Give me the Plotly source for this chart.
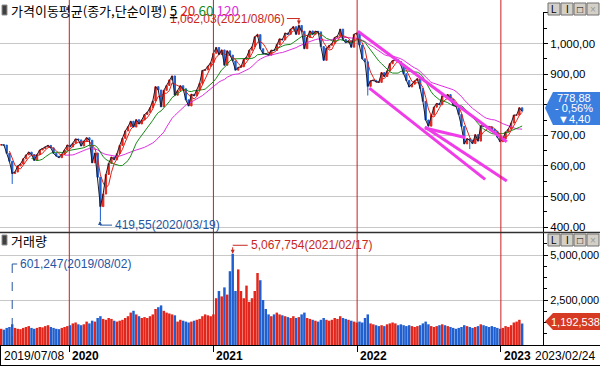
import pandas as pd
import plotly.graph_objects as go

# ---------------- data (weekly, Friday closes) ----------------
close_2019 = [669, 668, 641, 615, 575, 580, 600, 606, 623, 636, 645, 637, 618, 637, 652, 657,
              662, 667, 659, 641, 632, 627, 638, 652, 668]
close_2020 = [662, 674, 688, 685, 665, 681, 692, 684, 610, 642, 563, 467, 508, 572, 608, 629,
              620, 640, 667, 690, 714, 728, 746, 727, 751, 737, 750, 768, 775, 790, 812, 859,
              848, 793, 847, 863, 881, 894, 831, 846, 862, 852, 816, 796, 834, 829, 848, 870,
              912, 914, 926, 937]
close_2021 = [968, 987, 964, 979, 929, 976, 962, 943, 913, 922, 924, 948, 955, 978, 989, 1022,
              1029, 983, 967, 966, 962, 978, 977, 997, 1015, 1012, 1034, 1030, 1047, 1055, 1030,
              1059, 1040, 983, 1020, 1041, 1030, 1040, 1038, 990, 945, 985, 994, 1000, 1020, 1024,
              1047, 1013, 1003, 1009, 988, 1030, 1034]
close_2022 = [995, 950, 940, 860, 878, 880, 875, 873, 905, 892, 910, 934, 944, 947, 941, 930,
              901, 879, 858, 867, 878, 885, 853, 811, 750, 730, 766, 792, 804, 800, 829, 828,
              833, 818, 798, 795, 768, 729, 672, 689, 684, 673, 702, 681, 731, 730, 729, 728,
              719, 713, 694, 679]
close_2023 = [688, 711, 720, 740, 766, 766, 790, 778.88]

# average daily volume per week (thousand shares)
vol_2019 = [900, 850, 950, 1000, 1150, 950, 900, 880, 950, 1000, 1050, 950, 900, 950, 1000, 980,
            1050, 1100, 1000, 950, 900, 880, 950, 1000, 1050]
vol_2020 = [1100, 1200, 1250, 1150, 1100, 1150, 1300, 1200, 1350, 1300, 1500, 1600, 1450, 1400,
            1500, 1450, 1350, 1300, 1350, 1400, 1500, 1600, 1800, 1900, 1700, 1600, 1500, 1550,
            1500, 1600, 1700, 2000, 2100, 2200, 1900, 1800, 1750, 1700, 1650, 1300, 1400, 1350,
            1300, 1250, 1300, 1350, 1400, 1450, 1600, 1700, 1650, 1600]
vol_2021 = [1700, 2600, 3000, 2700, 3200, 2800, 4100, 5068, 3000, 4200, 3000, 2600, 3300, 2400,
            2600, 3000, 4000, 3600, 2500, 2000, 1700, 1600, 1700, 1800, 1700, 1650, 1600, 1550,
            1500, 1600, 1500, 1550, 1700, 1800, 1500, 1450, 1400, 1350, 1300, 1400, 1500, 1400,
            1350, 1400, 1500, 1450, 1600, 1500, 1450, 1400, 1350, 1300, 1250]
vol_2022 = [1300, 1250, 1500, 1700, 1200, 1150, 1100, 1050, 1100, 1050, 1150, 1200, 1250, 1200,
            1100, 1150, 1100, 1050, 1100, 1050, 1000, 1050, 1100, 1200, 1300, 1150, 1050, 1000,
            1050, 1100, 1150, 1100, 1050, 1000, 950, 900, 950, 1000, 1100, 1050, 1000, 950, 1000,
            1050, 1150, 1100, 1050, 1000, 1050, 1000, 950, 900]
vol_2023 = [950, 1050, 1000, 1100, 1250, 1300, 1400, 1192.538]

# intraweek extremes
low_dates = ['2019-08-09', '2020-03-20', '2022-01-28', '2022-10-14']
low_vals = [541, 419.55, 830, 655]
high_dates = ['2021-08-06', '2021-04-23']
high_vals = [1062.03, 1032]

# trend lines drawn on the chart
trend_x0 = ['2022-01-03', '2022-06-22', '2022-02-01', '2022-06-22']
trend_y0 = [1040, 724, 854, 727]
trend_x1 = ['2023-01-16', '2022-10-02', '2022-11-22', '2023-01-16']
trend_y1 = [679, 693, 556, 551]

year_starts = ['2020-01-01', '2021-01-01', '2022-01-01', '2023-01-01']
year_labels = ['2020', '2021', '2022', '2023']
price_ticks = [400, 500, 600, 700, 800, 900, 1000, 1100]
price_ticktext = ['400,00', '500,00', '600,00', '700,00', '', '900,00', '1,000,00', '']
vol_ticks = [2500000, 5000000]
vol_ticktext = ['2,500,000', '5,000,000']

# ---------------- build series ----------------
close = close_2019 + close_2020 + close_2021 + close_2022 + close_2023
vol = [v * 1000 for v in (vol_2019 + vol_2020 + vol_2021 + vol_2022 + vol_2023)]
dates = pd.date_range('2019-07-12', periods=len(close), freq='W-FRI')
opn = [close[0]] + close[:-1]
high = [max(o, c) for o, c in zip(opn, close)]
low = [min(o, c) for o, c in zip(opn, close)]
idx = {d.strftime('%Y-%m-%d'): i for i, d in enumerate(dates)}
for d, v in zip(low_dates, low_vals):
    low[idx[d]] = v
for d, v in zip(high_dates, high_vals):
    high[idx[d]] = v
s = pd.Series(close)
ma5 = s.rolling(1).mean()
ma20 = s.rolling(4).mean()
ma60 = s.rolling(12).mean()
ma120 = s.rolling(24).mean()
up = [c >= o for o, c in zip(opn, close)]
RED, BLUE = '#e3261b', '#1f5fd0'
vcol = [RED if u else BLUE for u in up]

# ---------------- geometry helpers ----------------
W, H = 600, 366
ML, MR, MT, MB = 0, 57, 12, 21
PW, PH = W - ML - MR, H - MT - MB
def px(x): return (x - ML) / PW
def py(y): return (H - MB - y) / PH

FONT = 'Liberation Sans'
KFONT = 'Noto Sans CJK KR'

fig = go.Figure()
fig.add_trace(go.Candlestick(x=dates, open=opn, high=high, low=low, close=close,
                             increasing=dict(line=dict(color=RED, width=1), fillcolor=RED),
                             decreasing=dict(line=dict(color=BLUE, width=1), fillcolor=BLUE),
                             whiskerwidth=0, xaxis='x', yaxis='y', showlegend=False,
                             hoverinfo='skip'))
for ma, col in [(ma120, '#e030e0'), (ma60, '#178a17'), (ma20, '#e02018'), (ma5, '#1a1a2a')]:
    fig.add_trace(go.Scatter(x=dates, y=ma, mode='lines', line=dict(color=col, width=1),
                             xaxis='x', yaxis='y', showlegend=False, hoverinfo='skip'))
for a, b, c, d in zip(trend_x0, trend_y0, trend_x1, trend_y1):
    fig.add_trace(go.Scatter(x=[a, c], y=[b, d], mode='lines',
                             line=dict(color='#f03ce8', width=3),
                             xaxis='x', yaxis='y', showlegend=False, hoverinfo='skip'))
fig.add_trace(go.Bar(x=dates, y=vol, marker=dict(color=vcol, line=dict(width=0)),
                     xaxis='x2', yaxis='y2', showlegend=False, hoverinfo='skip'))

xr = ['2019-07-09', '2023-04-18']
shapes = []
for d in year_starts:
    shapes.append(dict(type='line', xref='x', yref='paper', x0=d, x1=d, y0=0, y1=py(0),
                       line=dict(color='#c81e1e', width=1), layer='above'))
shapes.append(dict(type='line', xref='paper', yref='paper', x0=px(0), x1=px(600),
                   y0=py(232.5), y1=py(232.5), line=dict(color='#303030', width=1.5)))
shapes.append(dict(type='line', xref='paper', yref='paper', x0=px(0), x1=px(600),
                   y0=py(345.5), y1=py(345.5), line=dict(color='#000', width=1)))
shapes.append(dict(type='line', xref='paper', yref='paper', x0=px(0), x1=px(600),
                   y0=py(365.5), y1=py(365.5), line=dict(color='#000', width=1)))
shapes.append(dict(type='line', xref='paper', yref='paper', x0=px(0.5), x1=px(0.5),
                   y0=py(345.5), y1=py(365.5), line=dict(color='#000', width=1)))
for yy in (5, 235):
    shapes.append(dict(type='rect', xref='paper', yref='paper', x0=px(2), x1=px(7),
                       y0=py(yy + 10), y1=py(yy), fillcolor='#404040',
                       line=dict(color='#909090', width=1)))

def pent(x_tip, y_mid, x_l, x_r, y_t, y_b):
    pts = [(x_tip, y_mid), (x_l, y_t), (x_r, y_t), (x_r, y_b), (x_l, y_b)]
    return 'M ' + ' L '.join(f'{px(a):.5f} {py(b):.5f}' for a, b in pts) + ' Z'

shapes.append(dict(type='path', xref='paper', yref='paper', path=pent(545, 108, 553, 600, 92, 125),
                   fillcolor='#3a7ee0', line=dict(width=0), layer='above'))
shapes.append(dict(type='path', xref='paper', yref='paper', path=pent(545, 321.5, 553, 600, 313, 330),
                   fillcolor='#d63a22', line=dict(width=0), layer='above'))
ann = []
for yy in (3, 234):
    for i, ch in enumerate(['L', 'I', '□', '×']):
        x0 = 548 + i * 13
        shapes.append(dict(type='rect', xref='paper', yref='paper', x0=px(x0), x1=px(x0 + 12),
                           y0=py(yy + 12), y1=py(yy), fillcolor='#d4d0c8',
                           line=dict(color='#707070', width=1), layer='above'))
        ann.append(dict(xref='paper', yref='paper', x=px(x0 + 6), y=py(yy + 6), text=ch,
                        showarrow=False, font=dict(family=FONT, size=10,
                                                   color='#999' if ch == '×' else '#000'),
                        xanchor='center', yanchor='middle'))

def pline(xa, ya, yref, x0, x1, y0, y1, color, dash='solid'):
    return dict(type='line', xref='x', yref=yref, xsizemode='pixel', ysizemode='pixel',
                xanchor=xa, yanchor=ya, x0=x0, x1=x1, y0=y0, y1=y1,
                line=dict(color=color, width=1, dash=dash), layer='above')

PK = '#c8281e'
LB = '#2556a3'
shapes.append(pline('2021-08-06', 1062.03, 'y', -12, 1, 6, 6, PK))
shapes.append(pline('2020-03-19', 419.55, 'y', 0, 12, -4, -4, LB))
shapes.append(pline('2021-02-19', 5067754, 'y2', 0, 15, 8.5, 8.5, PK))
shapes.append(dict(type='line', xref='x', yref='y2', x0='2019-08-09', x1='2019-08-09',
                   y0=0, y1=4.85e6, line=dict(color=LB, width=1, dash='dash')))
shapes.append(pline('2019-08-09', 4.5e6, 'y2', 0, 5, 0, 0, LB))

ann += [
    dict(x='2021-08-06', y=1062.03, xref='x', yref='y', ax=0, ay=-7,
         showarrow=True, arrowhead=2, arrowsize=0.8, arrowwidth=1, arrowcolor=PK, text=''),
    dict(x='2021-08-06', y=1062.03, xref='x', yref='y', xshift=-12, yshift=5.5,
         text='1,062,03(2021/08/06)', showarrow=False, xanchor='right', yanchor='middle',
         font=dict(family=FONT, size=12, color=PK)),
    dict(x='2020-03-19', y=419.55, xref='x', yref='y', ax=0, ay=4, showarrow=True,
         arrowhead=2, arrowsize=0.8, arrowwidth=1, arrowcolor=LB, text=''),
    dict(x='2020-03-19', y=419.55, xref='x', yref='y', xshift=13, yshift=-4,
         text='419,55(2020/03/19)', showarrow=False, xanchor='left', yanchor='middle',
         font=dict(family=FONT, size=12, color=LB)),
    dict(x='2021-02-19', y=5067754, xref='x', yref='y2', ax=0, ay=-8, showarrow=True,
         arrowhead=2, arrowsize=0.8, arrowwidth=1, arrowcolor=PK, text=''),
    dict(x='2021-02-19', y=5067754, xref='x', yref='y2', xshift=16, yshift=8.5,
         text='5,067,754(2021/02/17)', showarrow=False, xanchor='left', yanchor='middle',
         font=dict(family=FONT, size=12, color=PK)),
    dict(x='2019-08-09', y=4.5e6, xref='x', yref='y2', xshift=6,
         text='601,247(2019/08/02)', showarrow=False, xanchor='left', yanchor='middle',
         font=dict(family=FONT, size=12, color=LB)),
    dict(xref='paper', yref='paper', x=px(9), y=py(10), xanchor='left', yanchor='middle',
         showarrow=False, font=dict(family=KFONT, size=13, color='#000'),
         text="가격이동평균(종가,단순이평) <span style='font-size:13.5px'><u>5</u> "
              "<span style='color:#e02018'>20</span> "
              "<span style='color:#178a17'>60</span> "
              "<span style='color:#e030e0'>120</span></span>"),
    dict(xref='paper', yref='paper', x=px(9), y=py(240), xanchor='left', yanchor='middle',
         showarrow=False, font=dict(family=KFONT, size=13, color='#000'), text='거래량'),
    dict(xref='paper', yref='paper', x=px(574), y=py(98), text='778,88', showarrow=False,
         font=dict(family=FONT, size=11, color='white'), xanchor='center', yanchor='middle'),
    dict(xref='paper', yref='paper', x=px(574), y=py(108.5), text='- 0,56%', showarrow=False,
         font=dict(family=FONT, size=11, color='white'), xanchor='center', yanchor='middle'),
    dict(xref='paper', yref='paper', x=px(574), y=py(119), text='▼4,40', showarrow=False,
         font=dict(family=FONT, size=11, color='white'), xanchor='center', yanchor='middle'),
    dict(xref='paper', yref='paper', x=px(575), y=py(322), text='1,192,538', showarrow=False,
         font=dict(family=FONT, size=11, color='white'), xanchor='center', yanchor='middle'),
    dict(xref='paper', yref='paper', x=px(2), y=py(356), text='2019/07/08', showarrow=False,
         font=dict(family=FONT, size=12, color='#000'), xanchor='left', yanchor='middle'),
    dict(xref='paper', yref='paper', x=px(597), y=py(356), text='2023/02/24', showarrow=False,
         font=dict(family=FONT, size=12, color='#000'), xanchor='right', yanchor='middle'),
]
for d, t in zip(year_starts, year_labels):
    ann.append(dict(x=d, xref='x', yref='paper', y=py(356), xshift=1, text='<b>' + t + '</b>',
                    showarrow=False, xanchor='left', yanchor='middle',
                    font=dict(family=FONT, size=12, color='#000')))

fig.update_layout(
    width=W, height=H, autosize=False,
    margin=dict(l=ML, r=MR, t=MT, b=MB, pad=0, autoexpand=False),
    paper_bgcolor='white', plot_bgcolor='white',
    showlegend=False, bargap=0.1,
    xaxis=dict(domain=[0, 1], anchor='y', range=xr, type='date', showgrid=False,
               showticklabels=False, ticks='', zeroline=False, showline=False,
               automargin=False, rangeslider=dict(visible=False)),
    xaxis2=dict(domain=[0, 1], anchor='y2', range=xr, type='date', matches='x',
                showgrid=False, showticklabels=False, tickmode='array', tickvals=year_starts,
                ticks='outside', ticklen=6, tickcolor='#000', showline=True, linecolor='#000',
                zeroline=False, automargin=False),
    yaxis=dict(domain=[py(232), 1], range=[384, 1103], side='right', tickmode='array',
               tickvals=price_ticks, ticktext=price_ticktext, ticks='outside', ticklen=4,
               tickcolor='#000', showgrid=True, gridcolor='#c8c8c8', gridwidth=1,
               showline=True, linecolor='#000', zeroline=False, automargin=False,
               tickfont=dict(family=FONT, size=11.5, color='#000'),
               minor=dict(tickmode='linear', tick0=0, dtick=50, ticks='outside', ticklen=3,
                          tickcolor='#000', showgrid=False)),
    yaxis2=dict(domain=[0, py(233)], range=[0, 6.222e6], side='right', tickmode='array',
                tickvals=vol_ticks, ticktext=vol_ticktext, ticks='outside', ticklen=4,
                tickcolor='#000', showgrid=True, gridcolor='#c8c8c8', showline=True,
                linecolor='#000', zeroline=False, automargin=False,
                tickfont=dict(family=FONT, size=11, color='#000'),
                minor=dict(tickmode='linear', tick0=0, dtick=625000, ticks='outside',
                           ticklen=3, tickcolor='#000', showgrid=False)),
    shapes=shapes, annotations=ann,
)
fig.write_html('out.html', config={'displayModeBar': False, 'staticPlot': True},
               post_script="document.body.style.margin='0px';document.body.style.overflow='hidden';")
